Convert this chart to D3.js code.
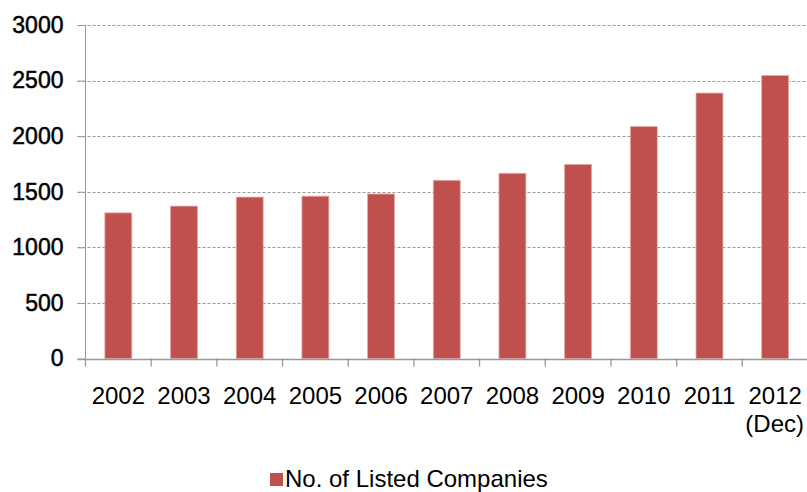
<!DOCTYPE html>
<html>
<head>
<meta charset="utf-8">
<script src="https://cdn.jsdelivr.net/npm/d3@7"></script>
<style>
  body { margin: 0; background: #fff; }
  svg { font-family: "Liberation Sans", Arial, sans-serif; }
</style>
</head>
<body>
<div id="chart"></div>
<script>
const years = ["2002", "2003", "2004", "2005", "2006", "2007", "2008", "2009", "2010", "2011", "2012"];
const companies = [1310, 1371, 1452, 1460, 1480, 1603, 1666, 1745, 2086, 2388, 2545];
const yTicks = [0, 500, 1000, 1500, 2000, 2500, 3000];
const seriesName = "No. of Listed Companies";

let width = 807;
let height = 492;
let margin = { top: 25, right: -1, bottom: 133.5, left: 85.5 };

let svg = d3.select('#chart')
    .append('svg')
    .attr('width', width)
    .attr('height', height);

let x = d3.scaleBand()
    .domain(years)
    .range([margin.left, width - margin.right])
    .paddingInner(0.59)
    .paddingOuter(0.295);

let y = d3.scaleLinear()
    .domain([0, 3000])
    .range([height - margin.bottom, margin.top]);

// dashed gridlines
svg.append('g')
    .selectAll('line')
    .data(yTicks.filter(d => d > 0))
    .enter()
    .append('line')
    .attr('x1', margin.left - 8)
    .attr('x2', width)
    .attr('y1', d => Math.round(y(d)) + 0.5)
    .attr('y2', d => Math.round(y(d)) + 0.5)
    .attr('stroke', '#999')
    .attr('stroke-dasharray', '3,2');

// y axis
let yAxis = svg.append('g')
    .attr('transform', `translate(${margin.left},0)`)
    .call(d3.axisLeft(y).tickValues(yTicks).tickFormat(d3.format('d')).tickSize(8).tickPadding(14));
yAxis.select('.domain').attr('stroke', '#999').attr('d', `M0,${y(3000)}V${y(0)}`);
yAxis.selectAll('.tick line').attr('stroke', '#999');
yAxis.selectAll('.tick text')
    .attr('font-size', 23)
    .attr('fill', '#000')
    .attr('stroke', '#000')
    .attr('stroke-width', 0.5)
    .attr('font-family', '"Liberation Sans", Arial, sans-serif');

// bars
svg.append('g')
    .selectAll('rect')
    .data(years)
    .enter()
    .append('rect')
    .attr('x', d => x(d))
    .attr('width', x.bandwidth())
    .attr('y', (d, i) => y(companies[i]))
    .attr('height', (d, i) => y(0) - y(companies[i]))
    .attr('fill', '#C0504D')
    .attr('stroke', '#e3a9a7')
    .attr('stroke-width', 0.8);

// x axis line and ticks at band boundaries
let x0 = y(0);
svg.append('line')
    .attr('x1', margin.left - 8)
    .attr('x2', width)
    .attr('y1', Math.round(x0) + 0.5)
    .attr('y2', Math.round(x0) + 0.5)
    .attr('stroke', '#999')
    .attr('stroke-width', 1.5);

svg.append('g')
    .selectAll('line')
    .data(years)
    .enter()
    .append('line')
    .attr('x1', d => x(d) - x.step() * x.paddingInner() / 2)
    .attr('x2', d => x(d) - x.step() * x.paddingInner() / 2)
    .attr('y1', x0)
    .attr('y2', x0 + 8)
    .attr('stroke', '#999')
    .attr('stroke-width', 1.3);

// x labels
svg.append('g')
    .selectAll('text')
    .data(years)
    .enter()
    .append('text')
    .attr('x', d => x(d) + x.bandwidth() / 2)
    .attr('y', 404)
    .attr('text-anchor', 'middle')
    .attr('font-size', 24)
    .attr('fill', '#000')
    .text(d => d);

svg.append('text')
    .attr('x', 804)
    .attr('y', 432)
    .attr('text-anchor', 'end')
    .attr('font-size', 24)
    .attr('fill', '#000')
    .text('(Dec)');

// legend
svg.append('rect')
    .attr('x', 270)
    .attr('y', 473)
    .attr('width', 13)
    .attr('height', 13)
    .attr('fill', '#C0504D');

svg.append('text')
    .attr('x', 285)
    .attr('y', 487)
    .attr('font-size', 24)
    .attr('fill', '#000')
    .text(seriesName);
</script>
</body>
</html>
